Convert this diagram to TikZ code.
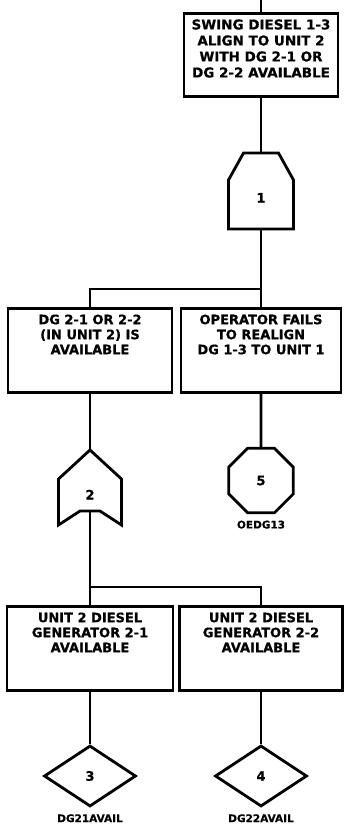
\documentclass[tikz,border=0pt]{standalone}
\usepackage{fontspec}
\setmainfont{DejaVu Sans}[BoldFeatures={FakeBold=0.6}]
\usepackage{tikz}
\usetikzlibrary{positioning,shapes.geometric}

\begin{document}
\begin{tikzpicture}[x=1pt, y=-1pt, line width=2.8pt,
    font=\bfseries\fontsize{13}{15}\selectfont,
    box/.style={draw, anchor=north, align=center, inner sep=6pt, minimum height=84, text depth=32},
    gate/.style={inner sep=0pt, text height=49.5},
    tag/.style={inner sep=0pt, font=\bfseries\fontsize{10.5}{12}\selectfont}]
\useasboundingbox (0,0) rectangle (344,829);
% fault tree, pixel grid (x right, y down)
\coordinate (feed) at (261,0);
\node[box, minimum width=154, minimum height=83, text depth=13,
      font=\bfseries\fontsize{13.5}{16}\selectfont] (b1) at (261,12)
  {SWING DIESEL 1-3\\ALIGN TO UNIT 2\\WITH DG 2-1 OR\\DG 2-2 AVAILABLE};
\node[gate, minimum width=65, text depth=26.5] (g1) at (261,191) {1};
\draw[shift={(g1.center)}] (-17.5,-38) -- (17.5,-38) -- (32.5,-11) -- (32.5,38)
  -- (-32.5,38) -- (-32.5,-11) -- cycle;
\coordinate (j1) at (261,289);
\node[box, minimum width=164] (b2) at (90,307) {DG 2-1 OR 2-2\\(IN UNIT 2) IS\\AVAILABLE};
\node[box, minimum width=160] (b3) at (261,307) {OPERATOR FAILS\\TO REALIGN\\DG 1-3 TO UNIT 1};
\node[gate, minimum width=63, text depth=11.5] (g2) at (90,480.5) {2};
\draw[shift={(g2.center)}] (0,-30.5) -- (31.5,-1.5) -- (31.5,44.5) -- (10,30.5)
  -- (-10,30.5) -- (-31.5,44.5) -- (-31.5,-1.5) -- cycle;
\node[draw, regular polygon, regular polygon sides=8, minimum size=70, inner sep=0pt] (u5) at (261,480.5) {5};
\node[tag, below=5pt of u5] (t5) {OEDG13};
\coordinate (j2) at (90,587);
\node[box, minimum width=166] (b4) at (90,605) {UNIT 2 DIESEL\\GENERATOR 2-1\\AVAILABLE};
\node[box, minimum width=163] (b5) at (261,605) {UNIT 2 DIESEL\\GENERATOR 2-2\\AVAILABLE};
\node[draw, diamond, aspect=1.5, minimum width=92, minimum height=61, inner sep=0pt] (d3) at (90,776) {3};
\node[draw, diamond, aspect=1.5, minimum width=92, minimum height=61, inner sep=0pt] (d4) at (261,776) {4};
\node[tag, below=5pt of d3] (t3) {DG21AVAIL};
\node[tag, below=5pt of d4] (t4) {DG22AVAIL};
\draw (feed) -- (b1.north);
\draw (b1.south) -- (g1.north);
\draw (g1.south) -- (b3.north);
\draw (b2.north) |- (j1);
\draw (b2.south) -- (g2.north);
\draw (b3.south) -- (u5.north);
\draw (g2.south) -- (b4.north);
\draw (b5.north) |- (j2);
\draw (b4.south) -- (d3.north);
\draw (b5.south) -- (d4.north);
\end{tikzpicture}
\end{document}
